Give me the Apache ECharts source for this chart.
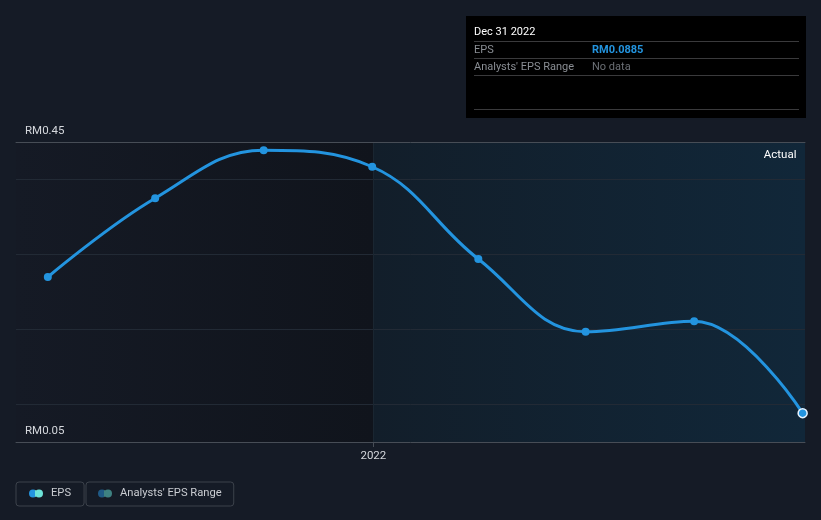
<!DOCTYPE html>
<html><head><meta charset="utf-8">
<script src="https://cdn.jsdelivr.net/npm/echarts@6/dist/echarts.min.js"></script>
<style>html,body{margin:0;padding:0;background:#151b26;} #c{width:821px;height:520px;}</style>
</head><body><div id="c"></div>
<script>
// ---- data ----
const dates = ['2021-03-31','2021-06-30','2021-09-30','2021-12-31','2022-03-31','2022-06-30','2022-09-30','2022-12-31'];
const eps = [0.270, 0.375, 0.439, 0.417, 0.294, 0.197, 0.211, 0.0885];
const yLabelValues = [0.05, 0.45];
const yGridValues = [0.1, 0.2, 0.3, 0.4];
const xRange = ['2021-03-04', '2023-01-02'];
const yearTicks = ['2022-01-01'];
const tipTitle = 'Dec 31 2022';
const tipRows = [['EPS', 'RM0.0885', '#2394df', 'bold'], ["Analysts' EPS Range", 'No data', '#6b6f75', 'normal']];
const seriesNames = ['EPS', "Analysts' EPS Range"];

const ts = d => +new Date(d + 'T00:00:00Z');
const xMin = ts(xRange[0]), xMax = ts(xRange[1]);
const split = ts(yearTicks[0]);
const FONT = 'Roboto, "Noto Sans", sans-serif';
const twoDots = 'path://M0,4a4,4 0 1,0 8,0a4,4 0 1,0 -8,0zM6,4a4,4 0 1,0 8,0a4,4 0 1,0 -8,0z';
const hardGrad = (a, b) => ({type:'linear', x:0, y:0, x2:1, y2:0, colorStops:[
  {offset:0,color:a},{offset:0.43,color:a},{offset:0.43,color:b},{offset:1,color:b}]});

const chart = echarts.init(document.getElementById('c'), null, {renderer:'canvas'});

const tipHtml = () => {
  let h = '<div style="width:340px;height:102px;box-sizing:border-box;padding:8px 7px 0 8px;font-family:' + FONT.replace(/"/g,"'") + ';position:relative;background:#000;">';
  h += '<div style="color:#fff;font-size:11px;line-height:16px;height:16px;border-bottom:1px solid #3a3a3c;padding-bottom:1px;">' + tipTitle + '</div>';
  tipRows.forEach(r => {
    h += '<div style="display:flex;font-size:11px;line-height:16px;height:16px;border-bottom:1px solid #3a3a3c;">' +
      '<span style="width:118px;color:#8a8e94;">' + r[0] + '</span>' +
      '<span style="color:' + r[2] + ';font-weight:' + r[3] + ';">' + r[1] + '</span></div>';
  });
  h += '<div style="position:absolute;left:8px;right:7px;top:93px;border-top:1px solid #3a3a3c;"></div>';
  h += '</div>';
  return h;
};

const legendBase = {
  top: 482, itemGap: 0,
  borderColor: '#3c424b', borderWidth: 1, borderRadius: 3, selectedMode: false,
  itemWidth: 14, itemHeight: 8, icon: twoDots,
  textStyle: {color: '#c9ccd1', fontSize: 11.2, fontFamily: FONT, padding: [0, 0, 0, 3]}
};

chart.setOption({
  animation: false,
  backgroundColor: '#151b26',
  textStyle: {fontFamily: FONT},
  grid: {left: 16, right: 16, top: 142, bottom: 78, containLabel: false},
  tooltip: {
    trigger: 'item', triggerOn: 'none', alwaysShowContent: true,
    position: [466, 16], backgroundColor: 'transparent', borderWidth: 0, padding: 0,
    transitionDuration: 0, extraCssText: 'box-shadow:none;border-radius:0;',
    formatter: tipHtml
  },
  legend: [
    Object.assign({}, legendBase, {data: [seriesNames[0]], left: 16, padding: [6, 13, 7, 13],
      itemStyle: {color: hardGrad('#2394df', '#6de4d8')}}),
    Object.assign({}, legendBase, {data: [seriesNames[1]], left: 86, padding: [6, 12, 7, 12],
      itemStyle: {color: hardGrad('#1f5a86', '#3e8282')}})
  ],
  xAxis: [
    {type: 'value', min: xMin, max: xMax,
     axisLine: {show: true, lineStyle: {color: '#474d56', width: 1}},
     axisTick: {show: true, customValues: yearTicks.map(ts), length: 5, lineStyle: {color: '#474d56'}},
     axisLabel: {show: true, customValues: yearTicks.map(ts), color: '#d4d7dc', fontSize: 11.5, margin: 8,
       formatter: v => String(new Date(v).getUTCFullYear())},
     splitLine: {show: true, lineStyle: {color: '#1a2631', width: 1}}},
    {type: 'value', min: xMin, max: xMax, position: 'top',
     axisLine: {show: true, lineStyle: {color: '#474d56', width: 1}},
     axisTick: {show: false}, axisLabel: {show: false}, splitLine: {show: false}}
  ],
  yAxis: {
    type: 'value', min: yLabelValues[0], max: yLabelValues[1],
    axisLine: {show: false},
    axisTick: {show: false, customValues: yGridValues},
    splitLine: {show: true, lineStyle: {color: '#222a35', width: 1}},
    axisLabel: {show: true, inside: true, margin: 9, customValues: yLabelValues, align: 'left',
      verticalAlign: 'bottom', padding: [0, 0, 5, 0], color: '#d4d7dc', fontSize: 11.5,
      formatter: v => 'RM' + v.toFixed(2)}
  },
  series: [
    {name: seriesNames[0], type: 'line', smooth: 0.4, symbol: 'circle', symbolSize: 8,
     color: '#2394df', lineStyle: {width: 3, color: '#2394df'}, itemStyle: {color: '#2394df'},
     z: 5,
     data: dates.map((d, i) => i === dates.length - 1
        ? {value: [ts(d), eps[i]], itemStyle: {color: '#2394df', borderColor: '#e6f3ff', borderWidth: 1.5}, symbolSize: 9}
        : [ts(d), eps[i]]),
     markArea: {silent: true, z: -1, data: [
       [{xAxis: xMin, itemStyle: {color: {type:'linear', x:0, y:0, x2:1, y2:0, colorStops:[
          {offset:0,color:'#151a25'},{offset:1,color:'#10141c'}]}}}, {xAxis: split}],
       [{xAxis: split, itemStyle: {color: {type:'linear', x:0, y:0, x2:1, y2:0, colorStops:[
          {offset:0,color:'#121e2a'},{offset:1,color:'#112739'}]}}},
        {xAxis: xMax}]
     ]},
     markPoint: {silent: true, symbol: 'rect', symbolSize: 1, itemStyle: {color: 'transparent'},
       data: [{coord: [xMax, yLabelValues[1]], value: 'Actual',
         label: {show: true, position: 'left', offset: [-3, 13], color: '#ffffff', fontSize: 11.5, formatter: 'Actual'}}]}
    },
    {name: seriesNames[1], type: 'line', data: [], color: '#1f5a86'}
  ]
});
chart.dispatchAction({type: 'showTip', seriesIndex: 0, dataIndex: dates.length - 1});
</script></body></html>
